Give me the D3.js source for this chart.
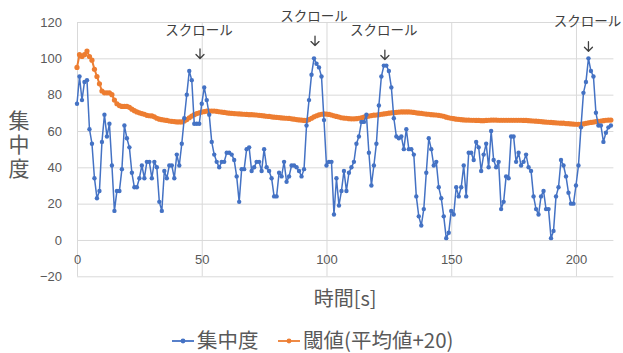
<!DOCTYPE html>
<html>
<head>
<meta charset="utf-8">
<script src="https://cdn.jsdelivr.net/npm/d3@7/dist/d3.min.js"></script>
<style>
  html, body { margin: 0; padding: 0; background: #fff; }
  svg { display: block; }
  .tick text { font-family: "Liberation Sans", "Noto Sans", sans-serif; font-size: 13px; fill: #595959; }
  .jp { font-family: "Noto Sans CJK JP", sans-serif; }
</style>
</head>
<body>
<svg id="chart" width="623" height="353"></svg>
<script>
// 集中度 (concentration), one sample per second
const concentration = [
  75, 90, 77, 87, 88, 61, 53, 34, 23, 27,
  54, 69, 57, 64, 41, 16, 27, 27, 39, 63,
  56, 51, 37, 29, 29, 34, 41, 34, 43, 43,
  34, 43, 40, 21, 16, 38, 34, 41, 41, 34,
  47, 41, 53, 67, 80, 93, 88, 64, 64, 64,
  75, 84, 77, 69, 54, 47, 43, 40, 43, 43,
  48, 48, 47, 44, 35, 21, 39, 39, 50, 51,
  38, 40, 43, 43, 38, 50, 40, 38, 34, 24,
  24, 37, 35, 43, 32, 35, 41, 41, 40, 38,
  35, 39, 63, 77, 91, 100, 97, 95, 90, 66,
  41, 43, 43, 14, 34, 19, 27, 38, 27, 37,
  40, 43, 53, 57, 65, 65, 69, 48, 30, 41,
  53, 74, 90, 96, 96, 93, 84, 67, 57, 56,
  57, 50, 61, 50, 50, 47, 24, 13, 8, 17,
  37, 56, 50, 41, 43, 29, 23, 13, 1, 4,
  16, 14, 29, 24, 29, 41, 24, 48, 48, 44,
  54, 51, 38, 47, 53, 40, 60, 44, 40, 43,
  17, 21, 35, 34, 57, 57, 43, 48, 41, 43,
  47, 40, 38, 24, 17, 14, 24, 27, 17, 17,
  1, 5, 24, 29, 44, 41, 35, 26, 20, 20,
  30, 41, 62, 81, 87, 100, 93, 90, 70, 63,
  63, 54, 59, 62, 63
];

// 閾値 (threshold = running mean + 20)
const threshold = [
  95, 102, 101, 102, 104, 101, 99, 94, 90, 86,
  82, 81, 81, 81, 80, 77, 75, 74, 73.5, 73.5,
  73.5, 73, 72, 71.2, 70.5, 70, 69.6, 69.2, 68.6, 68.4,
  68.3, 67.8, 67, 66.5, 66.2, 66, 65.8, 65.5, 65.3, 65.2,
  65, 65, 65, 65.5, 66.3, 67.3, 68.2, 69, 69.6, 70,
  70.4, 70.7, 70.9, 71, 71, 71, 70.8, 70.6, 70.4, 70.2,
  70, 69.8, 69.7, 69.6, 69.5, 69.4, 69.3, 69.2, 69.1, 69,
  69, 68.9, 68.8, 68.6, 68.5, 68.3, 68.1, 68, 67.8, 67.6,
  67.5, 67.4, 67.2, 67.1, 67, 66.9, 66.7, 66.5, 66.3, 66.1,
  66, 65.8, 65.8, 66.3, 67, 67.8, 68.4, 68.9, 69.2, 69.4,
  69.3, 69.1, 68.8, 68.4, 68, 67.7, 67.3, 67.1, 67, 66.8,
  66.7, 66.7, 66.8, 67, 67.3, 67.6, 68, 68.2, 68.5, 68.7,
  68.8, 69, 69.2, 69.4, 69.6, 69.8, 70, 70.1, 70.3, 70.4,
  70.5, 70.5, 70.5, 70.5, 70.4, 70.2, 70, 69.8, 69.7, 69.5,
  69.3, 69.2, 69, 68.9, 68.8, 68.6, 68.4, 68.1, 67.6, 67.3,
  67, 66.8, 66.5, 66.4, 66.2, 66.1, 66, 66, 65.9, 65.9,
  65.8, 65.8, 65.7, 65.7, 65.8, 65.9, 66, 66, 66, 65.9,
  65.9, 65.9, 65.9, 65.9, 65.9, 65.9, 65.9, 65.9, 65.9, 65.8,
  65.8, 65.7, 65.6, 65.5, 65.4, 65.3, 65.2, 65, 64.9, 64.8,
  64.7, 64.6, 64.5, 64.4, 64.3, 64.3, 64.1, 64, 63.9, 63.8,
  63.7, 63.7, 63.7, 63.9, 64.2, 64.5, 64.7, 64.9, 65.1, 65.3,
  65.5, 65.7, 65.9, 66, 66
];

// time in seconds for each sample
const seconds = d3.range(concentration.length);

const xTicks = [0, 50, 100, 150, 200];
const yTicks = [-20, 0, 20, 40, 60, 80, 100, 120];

// scroll events: time, label height and arrow height (in 集中度 units)
const scrollTimes = [49.3, 95.4, 123.4, 205];
const scrollLabelLevels = [115.6, 123.3, 115.6, 120.3];
const scrollArrowLevels = [102.4, 109.5, 101.8, 106.4];
const scrollLabel = "スクロール";

const seriesNames = ["集中度", "閾値(平均値+20)"];
const seriesColors = ["#4472C4", "#ED7D31"];

(function drawChart() {
  const svg = d3.select("#chart");
  const plotL = 77, plotR = 613.4, plotT = 22, plotB = 276.3;

  const x = d3.scaleLinear().domain([0, 215]).range([plotL, plotR]);
  const y = d3.scaleLinear().domain([-20, 120]).range([plotB, plotT]);

  // horizontal gridlines + value labels
  const yAxis = svg.append("g")
    .attr("transform", `translate(${plotL},0)`)
    .call(d3.axisLeft(y).tickValues(yTicks).tickSize(-(plotR - plotL)).tickPadding(15));
  yAxis.select(".domain").remove();
  yAxis.selectAll(".tick line").attr("stroke", "#d9d9d9");

  // vertical gridlines
  const xGrid = svg.append("g")
    .attr("transform", `translate(0,${plotB})`)
    .call(d3.axisBottom(x).tickValues(xTicks).tickSize(-(plotB - plotT)).tickFormat(""));
  xGrid.select(".domain").remove();
  xGrid.selectAll(".tick line").attr("stroke", "#d9d9d9");

  // time labels sit just under the zero line
  const xAxis = svg.append("g")
    .attr("transform", `translate(0,${y(0)})`)
    .call(d3.axisBottom(x).tickValues(xTicks).tickSize(0).tickPadding(15));
  xAxis.select(".domain").remove();

  // series
  const line = d3.line().x((d, i) => x(seconds[i])).y(d => y(d));

  function drawSeries(values, color, lw, r) {
    const g = svg.append("g");
    g.append("path")
      .datum(values)
      .attr("fill", "none")
      .attr("stroke", color)
      .attr("stroke-width", lw)
      .attr("stroke-linejoin", "round")
      .attr("d", line);
    g.selectAll("circle")
      .data(values)
      .join("circle")
      .attr("cx", (d, i) => x(seconds[i]))
      .attr("cy", d => y(d))
      .attr("r", r)
      .attr("fill", color);
  }
  drawSeries(threshold, seriesColors[1], 2, 2.6);
  drawSeries(concentration, seriesColors[0], 1.5, 2.2);

  // scroll annotations: label with a down arrow pointing at the event
  scrollTimes.forEach((t, i) => {
    svg.append("text")
      .attr("class", "jp")
      .attr("x", x(t) - 1)
      .attr("y", y(scrollLabelLevels[i]))
      .attr("dy", "0.36em")
      .attr("text-anchor", "middle")
      .attr("font-size", 13.5)
      .attr("fill", "#404040")
      .text(scrollLabel);
    const ax = x(t), ay = y(scrollArrowLevels[i]);
    svg.append("path")
      .attr("d", `M${ax},${ay - 5}V${ay + 4.5}M${ax - 4},${ay + 0.5}L${ax},${ay + 4.5}L${ax + 4},${ay + 0.5}`)
      .attr("fill", "none")
      .attr("stroke", "#404040")
      .attr("stroke-width", 1.3)
      .attr("stroke-linecap", "round")
      .attr("stroke-linejoin", "round");
  });

  // axis titles
  svg.append("text")
    .attr("class", "jp")
    .attr("x", 19)
    .attr("y", 110)
    .attr("writing-mode", "vertical-rl")
    .style("text-orientation", "upright")
    .style("letter-spacing", "3px")
    .attr("font-size", 21)
    .attr("fill", "#595959")
    .text("集中度");

  svg.append("text")
    .attr("class", "jp")
    .attr("x", (plotL + plotR) / 2)
    .attr("y", 299)
    .attr("dy", "0.36em")
    .attr("text-anchor", "middle")
    .attr("font-size", 20)
    .attr("fill", "#595959")
    .text("時間[s]");

  // legend
  const legendX = [172, 278];
  const legend = svg.append("g");
  seriesNames.forEach((name, i) => {
    const lx = legendX[i], ly = 341;
    legend.append("line")
      .attr("x1", lx).attr("x2", lx + 22)
      .attr("y1", ly).attr("y2", ly)
      .attr("stroke", seriesColors[i]).attr("stroke-width", 1.8);
    legend.append("circle")
      .attr("cx", lx + 11).attr("cy", ly).attr("r", 2.4)
      .attr("fill", seriesColors[i]);
    legend.append("text")
      .attr("class", "jp")
      .attr("x", lx + 25).attr("y", ly)
      .attr("dy", "0.36em")
      .attr("font-size", 20.5)
      .attr("fill", "#595959")
      .text(name);
  });
})();
</script>
</body>
</html>
